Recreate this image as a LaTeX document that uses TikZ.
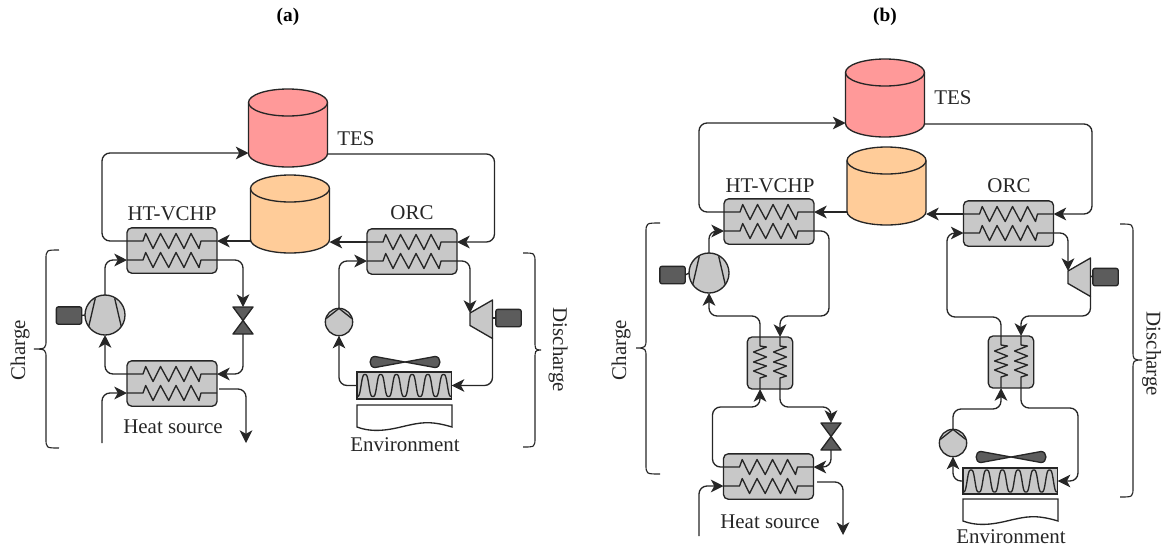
\documentclass[tikz,border=0pt]{standalone}
\usepackage{fontspec}
\setmainfont{Liberation Serif}
\usetikzlibrary{arrows.meta}
\definecolor{ink}{HTML}{262626}
\definecolor{hxgrey}{HTML}{C8C8C8}
\definecolor{darkgrey}{HTML}{5C5C5C}
\definecolor{tesred}{HTML}{FF9999}
\definecolor{tesorange}{HTML}{FFCC99}
\tikzset{
  linew/.style={line width=1pt,draw=ink},
  pipe/.style={linew,rounded corners=6pt,-{Stealth[length=9.5pt,width=9.5pt,inset=2.6pt]}},
  hxbox/.style={linew,fill=hxgrey,rounded corners=3.5pt,inner sep=0pt,outer sep=0pt},
  hxhbox/.style={hxbox,minimum width=67.5pt,minimum height=34pt},
  hxvbox/.style={hxbox,minimum width=34pt,minimum height=39pt},
  motorbox/.style={linew,fill=darkgrey,rounded corners=1.5pt,minimum width=19pt,minimum height=13pt,inner sep=0pt,outer sep=0pt},
  compcirc/.style={circle,linew,fill=hxgrey,minimum size=30pt,inner sep=0pt,outer sep=0pt},
  pumpcirc/.style={circle,linew,fill=hxgrey,minimum size=20.5pt,inner sep=0pt,outer sep=0pt},
  condbox/.style={linew,fill=hxgrey,minimum width=71pt,inner sep=0pt,outer sep=0pt,line width=1.05pt},
  lab/.style={font=\fontsize{15.7pt}{18pt}\selectfont,text=ink,inner sep=0pt},
  title/.style={font=\fontsize{14.5pt}{16pt}\selectfont\bfseries,text=black,inner sep=0pt},
}
% horizontal heat exchanger: name, centre x, top y
\newcommand{\hxh}[3]{%
  \node[hxhbox] (#1) at (#2,#3+22.5) {};
  \begin{scope}[shift={(#2,#3)}]
    \coordinate (#1-uw) at (-45,13); \coordinate (#1-ue) at (45,13);
    \coordinate (#1-lw) at (-45,32); \coordinate (#1-le) at (45,32);
    \foreach \yy in {13,32}{
      \draw[linew,line join=round] (-45,\yy) -- (-29,\yy) -- (-26.3,\yy-7.5) -- (-19,\yy+7.5) -- (-11.5,\yy-7.5) -- (-3.3,\yy+7.5)
        -- (4,\yy-7.5) -- (12,\yy+7.5) -- (19,\yy-7.5) -- (27,\yy+7.5) -- (29,\yy) -- (45,\yy);
    }
  \end{scope}}
% vertical heat exchanger: name, centre x, top y
\newcommand{\hxv}[3]{%
  \node[hxvbox] (#1) at (#2,#3+26) {};
  \begin{scope}[shift={(#2,#3)}]
    \coordinate (#1-lt) at (-10,0); \coordinate (#1-rt) at (10,0);
    \coordinate (#1-lb) at (-10,52); \coordinate (#1-rb) at (10,52);
    \foreach \xx in {-10,10}{
      \draw[linew,line join=round] (\xx,0) -- (\xx,9) -- (\xx+6.5,10) -- (\xx-6.5,15) -- (\xx+6.5,20) -- (\xx-6.5,25)
        -- (\xx+6.5,29) -- (\xx-6.5,34) -- (\xx+6.5,39) -- (\xx,41) -- (\xx,52);
    }
  \end{scope}}
% storage cylinder: name, centre x, top y, colour
\newcommand{\cyl}[4]{%
  \begin{scope}[shift={(#2,#3)}]
    \coordinate (#1-w) at (-39.5,64); \coordinate (#1-e) at (39.5,65);
    \draw[linew,fill=#4] (-39.5,13.5) .. controls (-39.5,6) and (-21.8,0) .. (0,0)
      .. controls (21.8,0) and (39.5,6) .. (39.5,13.5) -- (39.5,64.5)
      .. controls (39.5,72) and (21.8,78) .. (0,78) .. controls (-21.8,78) and (-39.5,72) .. (-39.5,64.5) -- cycle;
    \draw[linew] (-39.5,13.5) .. controls (-39.5,21) and (-21.8,27) .. (0,27) .. controls (21.8,27) and (39.5,21) .. (39.5,13.5);
  \end{scope}}
% compressor: name, centre
\newcommand{\comp}[3]{%
  \node[compcirc] (#1) at (#2,#3) {};
  \begin{scope}[shift={(#2,#3)}]
    \draw[linew] (-9.7,-16.7) -- (-16.3,11.7);
    \draw[linew] (9.7,-16.7) -- (16.3,11.7);
  \end{scope}}
% pump: name, centre
\newcommand{\pump}[3]{%
  \node[pumpcirc] (#1) at (#2,#3) {};
  \begin{scope}[shift={(#2,#3)}]
    \draw[linew] (-12.7,-3.6) -- (0,-13.6) -- (12.7,-3.6);
  \end{scope}}
% expansion valve: name, centre x, top y
\newcommand{\valve}[3]{%
  \begin{scope}[shift={(#2,#3)}]
    \coordinate (#1-t) at (0,0); \coordinate (#1-b) at (0,27);
    \draw[linew,fill=darkgrey,line join=round] (-10,0) -- (10,0) -- (-10,27) -- (10,27) -- cycle;
  \end{scope}}
% turbine: name, left x, top-right y
\newcommand{\turb}[3]{%
  \begin{scope}[shift={(#2,#3)}]
    \coordinate (#1-in) at (0,13); \coordinate (#1-out) at (22.5,38.5); \coordinate (#1-e) at (22.5,18);
    \draw[linew,fill=hxgrey,line join=round] (0,13) -- (22.5,0) -- (22.5,38.5) -- (0,25.5) -- cycle;
  \end{scope}}
% fan: centre
\newcommand{\fan}[2]{%
  \begin{scope}[shift={(#1,#2)}]
    \draw[linew,fill=darkgrey,line join=round] (0,0) -- (-30,-5.5) .. controls (-36.5,-5.5) and (-36.5,5.5) .. (-30,5.5) -- (0,0)
      -- (30,-5.5) .. controls (36.5,-5.5) and (36.5,5.5) .. (30,5.5) -- cycle;
  \end{scope}}
% condenser: name, left x, top y, height
\newcommand{\cond}[4]{%
  \node[condbox,minimum height=#4*0.75pt,anchor=north west] (#1) at (#2,#3) {};
  \begin{scope}[shift={(#2,#3)}]
    \draw[linew] plot[domain=0.6:94.4,samples=190,smooth] (\x,{#4/2-12.2*(cos(22.93*(\x-8))-0.1*cos(68.79*(\x-8)))});
  \end{scope}}
% environment sheet: left x, top y
\newcommand{\sheet}[2]{%
  \begin{scope}[shift={(#1,#2)}]
    \draw[linew,fill=white] (0,0) -- (95,0) -- (95,22) .. controls (72,15) and (62,18) .. (48,21)
      .. controls (32,25) and (16,28) .. (0,22) -- cycle;
  \end{scope}}
% braces: end x, spine x, tip x, top y, mid y, bottom y
\newcommand{\brc}[6]{%
  \draw[linew,line width=0.85pt] (#1,#4) .. controls (#2,#4) and (#2,#4) .. (#2,#4+10) -- (#2,#5-9)
    .. controls (#2,#5-1) and (#2,#5) .. (#3,#5) .. controls (#2,#5) and (#2,#5+1) .. (#2,#5+9)
    -- (#2,#6-10) .. controls (#2,#6) and (#2,#6) .. (#1,#6);}
\begin{document}
\begin{tikzpicture}[x=0.75pt,y=-0.75pt]
\useasboundingbox (0,0) rectangle (1162,547);

% ---------- panel (a) ----------
\node[title] (ta) at (288,17) {(a)};
\cyl{tesa}{288}{89}{tesred}
\cyl{hota}{290}{175}{tesorange}
\hxh{hta}{172}{228}
\hxh{eva}{172}{361}
\hxh{orca}{412}{229}
\comp{cpa}{105}{315}
\node[motorbox] (ma) at (69,315.5) {};
\valve{va}{243}{307}
\pump{pa}{339}{322}
\turb{tua}{470}{300}
\node[motorbox] (mb) at (508.5,318) {};
\cond{cda}{357}{372}{27}
\fan{405}{362}
\sheet{357}{405}
\coordinate (hsina) at (102,443);
\coordinate (hsoutb) at (246,443);
\coordinate (evaout) at (219,389);

\draw[linew] (ma.east) -- (cpa.west);
\draw[linew] (mb.west) -- (tua-e);
\draw[pipe] (hta-uw) -- ++(-25,0) |- (tesa-w);
\draw[pipe] (hota-w |- hta-ue) -- (hta-ue);
\draw[pipe] (orca-uw) -- (hota-e |- orca-uw);
\draw[pipe] (tesa-e) -- ++(167,0) |- (orca-ue);
\draw[pipe] (cpa.north) |- (hta-lw);
\draw[pipe] (hta-le) -| (va-t);
\draw[pipe] (va-b) |- (eva-ue);
\draw[pipe] (eva-uw) -| (cpa.south);
\draw[pipe] (hsina) |- (eva-lw);
\draw[pipe] (evaout) -| (hsoutb);
\draw[pipe] (pa.north) |- (orca-lw);
\draw[pipe] (orca-le) -| (tua-in);
\draw[pipe] (tua-out) |- (cda.east);
\draw[pipe] (cda.west) -| (pa.south);

\node[lab] (l1) at (172,214) {HT-VCHP};
\node[lab] (l2) at (412,213) {ORC};
\node[lab] (l3) at (356,139) {TES};
\node[lab] (l4) at (173,427) {Heat source};
\node[lab] (l5) at (405,445) {Environment};
\node[lab,rotate=90] (l6) at (20,350) {Charge};
\node[lab,rotate=-90] (l7) at (558,350) {Discharge};
\brc{59}{46}{34}{250}{349}{448}
\brc{523}{535}{541}{253}{350}{447}

% ---------- panel (b) ----------
\node[title] (tb) at (885,17) {(b)};
\cyl{tesb}{885}{59}{tesred}
\cyl{hotb}{886.5}{147}{tesorange}
\hxh{htb}{769}{199}
\hxh{evb}{768.5}{454}
\hxh{orcb}{1008.5}{201}
\hxv{ixa}{770}{337}
\hxv{ixb}{1011}{336}
\comp{cpb}{709}{273}
\node[motorbox] (mc) at (672.5,275) {};
\valve{vb}{831}{423}
\pump{pb}{953}{443}
\turb{tub}{1068}{258}
\node[motorbox] (md) at (1105.5,277) {};
\cond{cdb}{963}{468}{26}
\fan{1011}{457}
\sheet{963}{499}
\coordinate (hsinb) at (699,536);
\coordinate (hsoutd) at (843,535);
\coordinate (evbout) at (817,482);

\draw[linew] (mc.east) -- (cpb.west);
\draw[linew] (md.west) -- (tub-e);
\draw[pipe] (htb-uw) -- ++(-25,0) |- (tesb-w);
\draw[pipe] (hotb-w |- htb-ue) -- (htb-ue);
\draw[pipe] (orcb-uw) -- (hotb-e |- orcb-uw);
\draw[pipe] (tesb-e) -- ++(167.5,0) |- (orcb-ue);
\draw[pipe] (cpb.north) |- (htb-lw);
\draw[pipe] (ixa-lt) -- ++(0,-21) -| (cpb.south);
\draw[pipe] (htb-le) -- ++(15,0) |- ([yshift=15.75pt]ixa-rt) -- (ixa-rt);
\draw[pipe] (evb-uw) -- ++(-11,0) |- ([yshift=-13.5pt]ixa-lb) -- (ixa-lb);
\draw[pipe] (ixa-rb) -- ++(0,18) -| (vb-t);
\draw[pipe] (vb-b) |- (evb-ue);
\draw[pipe] (hsinb) |- (evb-lw);
\draw[pipe] (evbout) -| (hsoutd);

\draw[pipe] (ixb-lt) -- ++(0,-19) -- ++(-54,0) |- (orcb-lw);
\draw[pipe] (orcb-le) -| (tub-in);
\draw[pipe] (tub-out) |- ([yshift=15pt]ixb-rt) -- (ixb-rt);
\draw[pipe] (pb.north) |- ([yshift=-15.75pt]ixb-lb) -- (ixb-lb);
\draw[pipe] (ixb-rb) -- ++(0,20) -- ++(57,0) |- (cdb.east);
\draw[pipe] (cdb.west) -| (pb.south);

\node[lab] (l8) at (770,186) {HT-VCHP};
\node[lab] (l9) at (1009,186) {ORC};
\node[lab] (l10) at (953,98) {TES};
\node[lab] (l11) at (770,522) {Heat source};
\node[lab] (l12) at (1011,536.5) {Environment};
\node[lab,rotate=90] (l13) at (621,350) {Charge};
\node[lab,rotate=-90] (l14) at (1151.5,354) {Discharge};
\brc{660}{646}{636}{223}{348}{474}
\brc{1120}{1133}{1142}{224}{360}{497}
\end{tikzpicture}
\end{document}
